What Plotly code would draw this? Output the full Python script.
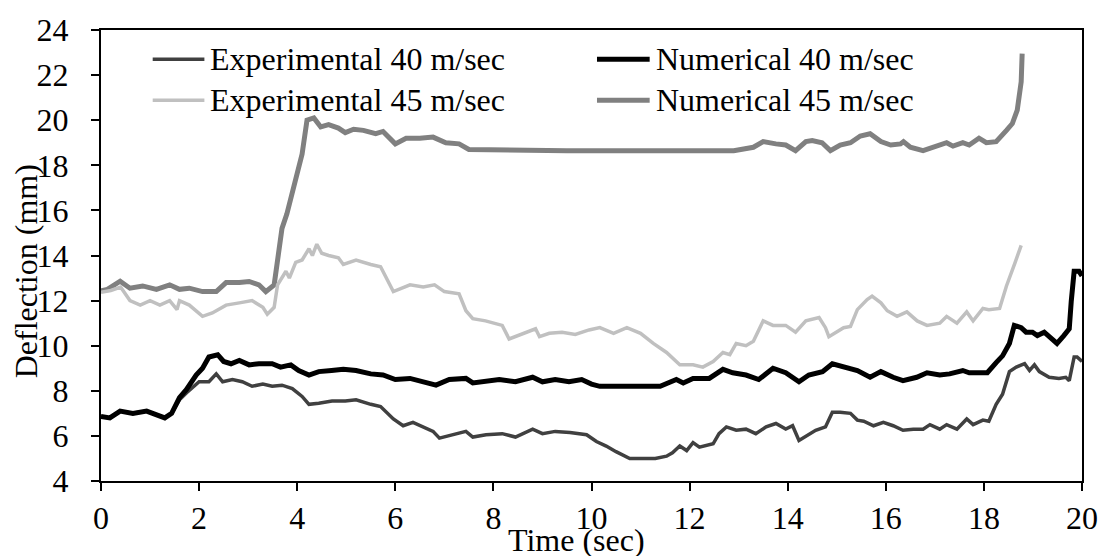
import plotly.graph_objects as go

# ---------------- data ----------------
t_num45 = [0, 0.13, 0.39, 0.59, 0.85, 1.13, 1.4, 1.6, 1.8, 2.07, 2.35, 2.55, 2.82, 3.02, 3.22, 3.36, 3.53,
           3.59, 3.69, 3.79, 3.9, 4.03, 4.1, 4.2, 4.34, 4.48, 4.64, 4.84, 4.98, 5.15, 5.35, 5.6, 5.75,
           6.0, 6.22, 6.5, 6.77, 7.03, 7.3, 7.5, 8.5, 9.5, 10.5, 11.5, 12.9, 13.3, 13.5, 13.76, 13.96,
           14.16, 14.37, 14.5, 14.7, 14.87, 15.07, 15.28, 15.48, 15.68, 15.9, 16.1, 16.3, 16.36, 16.5,
           16.76, 16.96, 17.24, 17.37, 17.57, 17.7, 17.9, 18.05, 18.25, 18.46, 18.58, 18.68, 18.76, 18.78]
v_num45 = [12.43, 12.5, 12.86, 12.55, 12.65, 12.5, 12.7, 12.5, 12.55, 12.4, 12.4, 12.8, 12.8, 12.85, 12.7, 12.4, 12.7,
           13.6, 15.2, 15.85, 16.85, 17.9, 18.5, 20.0, 20.1, 19.7, 19.8, 19.65, 19.45, 19.6, 19.55, 19.4, 19.5,
           18.95, 19.2, 19.2, 19.25, 19.0, 18.95, 18.7, 18.65, 18.65, 18.65, 18.65, 18.65, 18.8, 19.05, 18.95, 18.9,
           18.65, 19.05, 19.1, 19.0, 18.65, 18.9, 19.0, 19.3, 19.4, 19.05, 18.9, 18.95, 19.05, 18.8,
           18.65, 18.8, 19.0, 18.85, 19.0, 18.9, 19.2, 19.0, 19.05, 19.55, 19.85, 20.45, 21.7, 22.95]

t_exp45 = [0, 0.2, 0.4, 0.59, 0.8, 1.0, 1.2, 1.4, 1.55, 1.6, 1.8, 2.07, 2.27, 2.55, 2.82, 3.08, 3.3, 3.39, 3.53,
           3.6, 3.77, 3.84, 3.97, 4.1, 4.24, 4.31, 4.4, 4.5, 4.64, 4.84, 4.94, 5.2, 5.5, 5.7, 5.96, 6.3,
           6.57, 6.8, 7.0, 7.3, 7.44, 7.58, 7.84, 8.04, 8.18, 8.32, 8.6, 8.86, 8.94, 9.14, 9.4, 9.67,
           9.95, 10.17, 10.45, 10.72, 11.0, 11.26, 11.53, 11.8, 12.07, 12.27, 12.48, 12.68, 12.82, 12.95,
           13.15, 13.3, 13.5, 13.7, 13.96, 14.16, 14.37, 14.64, 14.77, 14.84, 15.14, 15.28, 15.42,
           15.62, 15.72, 15.9, 16.03, 16.23, 16.43, 16.64, 16.84, 17.1, 17.24, 17.45, 17.65, 17.78,
           17.98, 18.1, 18.32, 18.46, 18.63, 18.76]
v_exp45 = [12.37, 12.45, 12.6, 12.0, 11.8, 12.0, 11.8, 12.0, 11.6, 12.0, 11.8, 11.3, 11.45, 11.8, 11.9, 12.0, 11.7, 11.4, 11.7,
           12.7, 13.3, 13.0, 13.7, 13.8, 14.3, 14.0, 14.5, 14.1, 14.0, 13.9, 13.6, 13.8, 13.6, 13.5, 12.4, 12.7,
           12.6, 12.7, 12.4, 12.3, 11.55, 11.2, 11.1, 11.0, 10.9, 10.3, 10.55, 10.75, 10.4, 10.55, 10.6, 10.5,
           10.7, 10.8, 10.55, 10.8, 10.55, 10.1, 9.7, 9.15, 9.15, 9.05, 9.3, 9.7, 9.6, 10.1,
           10.0, 10.2, 11.1, 10.9, 10.9, 10.6, 11.1, 11.25, 10.8, 10.4, 10.8, 10.85, 11.6,
           12.05, 12.2, 11.9, 11.55, 11.3, 11.5, 11.1, 10.9, 11.0, 11.3, 11.0, 11.5, 11.1,
           11.65, 11.6, 11.65, 12.65, 13.65, 14.45]

t_num40 = [0, 0.18, 0.39, 0.65, 0.93, 1.13, 1.3, 1.44, 1.6, 1.74, 1.94, 2.07, 2.2, 2.38, 2.5, 2.65, 2.82,
           3.02, 3.22, 3.49, 3.66, 3.87, 4.03, 4.24, 4.44, 4.7, 4.94, 5.2, 5.5, 5.75, 6.0, 6.3, 6.57,
           6.83, 7.1, 7.44, 7.58, 7.85, 8.12, 8.45, 8.8, 9.0, 9.26, 9.54, 9.8, 10.0, 10.17, 11.4,
           11.73, 11.87, 12.07, 12.4, 12.68, 12.88, 13.15, 13.41, 13.7, 13.96, 14.23, 14.43, 14.71,
           14.91, 15.14, 15.42, 15.68, 15.9, 16.15, 16.35, 16.63, 16.84, 17.1, 17.3, 17.57, 17.7,
           17.98, 18.07, 18.25, 18.38, 18.52, 18.62, 18.76, 18.86, 18.99, 19.09, 19.23, 19.39,
           19.49, 19.63, 19.74, 19.78, 19.84, 19.94, 20.0]
v_num40 = [6.86, 6.8, 7.1, 7.0, 7.1, 6.95, 6.8, 7.0, 7.7, 8.05, 8.7, 9.0, 9.5, 9.6, 9.3, 9.2, 9.35,
           9.15, 9.2, 9.2, 9.05, 9.15, 8.9, 8.7, 8.85, 8.9, 8.95, 8.9, 8.75, 8.7, 8.5, 8.55, 8.4,
           8.25, 8.5, 8.55, 8.35, 8.4, 8.5, 8.4, 8.6, 8.4, 8.5, 8.4, 8.5, 8.3, 8.2, 8.2,
           8.5, 8.35, 8.55, 8.55, 8.95, 8.8, 8.7, 8.5, 9.0, 8.8, 8.4, 8.7, 8.85,
           9.2, 9.05, 8.9, 8.6, 8.85, 8.6, 8.45, 8.6, 8.8, 8.7, 8.75, 8.9, 8.8,
           8.8, 8.8, 9.25, 9.55, 10.1, 10.9, 10.8, 10.6, 10.6, 10.45, 10.6, 10.3,
           10.1, 10.45, 10.75, 11.95, 13.3, 13.3, 13.1]

t_exp40 = [0, 0.18, 0.39, 0.65, 0.93, 1.13, 1.3, 1.44, 1.6, 1.74, 1.94, 2.0, 2.2, 2.35, 2.48, 2.68, 2.88,
           3.08, 3.3, 3.49, 3.69, 3.9, 4.1, 4.24, 4.44, 4.71, 4.98, 5.2, 5.5, 5.7, 5.96, 6.16, 6.36,
           6.57, 6.77, 6.9, 7.17, 7.44, 7.58, 7.85, 8.18, 8.45, 8.8, 9.0, 9.26, 9.56, 9.9, 10.1, 10.3,
           10.5, 10.78, 11.06, 11.3, 11.53, 11.65, 11.8, 11.94, 12.07, 12.2, 12.48, 12.6, 12.75,
           12.95, 13.15, 13.35, 13.56, 13.76, 13.96, 14.1, 14.23, 14.37, 14.57, 14.77, 14.91, 15.07,
           15.28, 15.42, 15.55, 15.75, 15.95, 16.15, 16.35, 16.56, 16.76, 16.9, 17.1, 17.24, 17.45,
           17.65, 17.78, 17.98, 18.1, 18.25, 18.38, 18.52, 18.66, 18.83, 18.93, 19.03, 19.13, 19.33,
           19.53, 19.67, 19.74, 19.84, 19.9, 20.0]
v_exp40 = [6.86, 6.8, 7.1, 7.0, 7.1, 6.95, 6.8, 7.0, 7.6, 7.9, 8.3, 8.4, 8.4, 8.75, 8.4, 8.5, 8.4,
           8.2, 8.3, 8.2, 8.25, 8.1, 7.75, 7.4, 7.45, 7.55, 7.55, 7.6, 7.4, 7.3, 6.75, 6.45, 6.6,
           6.4, 6.2, 5.9, 6.05, 6.2, 5.95, 6.05, 6.1, 5.95, 6.3, 6.1, 6.2, 6.15, 6.05, 5.75, 5.55,
           5.3, 5.0, 5.0, 5.0, 5.1, 5.25, 5.55, 5.35, 5.7, 5.5, 5.65, 6.1, 6.4,
           6.25, 6.3, 6.1, 6.4, 6.55, 6.3, 6.45, 5.8, 6.0, 6.25, 6.4, 7.05, 7.05,
           7.0, 6.7, 6.65, 6.45, 6.6, 6.45, 6.25, 6.3, 6.3, 6.5, 6.3, 6.5, 6.3,
           6.75, 6.5, 6.7, 6.65, 7.4, 7.85, 8.85, 9.05, 9.2, 8.9, 9.15, 8.85, 8.6,
           8.55, 8.6, 8.45, 9.5, 9.5, 9.3]

series_names = ["Experimental 40 m/sec", "Numerical 40 m/sec",
                "Experimental 45 m/sec", "Numerical 45 m/sec"]

x_ticks = [0, 2, 4, 6, 8, 10, 12, 14, 16, 18, 20]
y_ticks = [4, 6, 8, 10, 12, 14, 16, 18, 20, 22, 24]

# ---------------- styles ----------------
FONT = "Times New Roman, Liberation Serif, DejaVu Serif, serif"
FS = 32
styles = {
    "Experimental 40 m/sec": dict(color="#404040", width=3.5),
    "Numerical 40 m/sec": dict(color="#000000", width=5),
    "Experimental 45 m/sec": dict(color="#c0c0c0", width=3.5),
    "Numerical 45 m/sec": dict(color="#808080", width=5),
}
series = {
    "Experimental 40 m/sec": (t_exp40, v_exp40),
    "Numerical 40 m/sec": (t_num40, v_num40),
    "Experimental 45 m/sec": (t_exp45, v_exp45),
    "Numerical 45 m/sec": (t_num45, v_num45),
}

fig = go.Figure()
draw_order = ["Numerical 45 m/sec", "Experimental 45 m/sec", "Experimental 40 m/sec", "Numerical 40 m/sec"]
for name in draw_order:
    tx, vy = series[name]
    fig.add_trace(go.Scatter(x=tx, y=vy, mode="lines", name=name,
                             line=dict(color=styles[name]["color"], width=styles[name]["width"]),
                             showlegend=False))

# manual legend (two columns)
legend_pos = {
    "Experimental 40 m/sec": (0.0527, 0.1054, 0.935),
    "Experimental 45 m/sec": (0.0527, 0.1054, 0.844),
    "Numerical 40 m/sec": (0.5056, 0.5593, 0.935),
    "Numerical 45 m/sec": (0.5056, 0.5593, 0.844),
}
shapes = []
annotations = []
for name, (x0, x1, yy) in legend_pos.items():
    shapes.append(dict(type="line", xref="paper", yref="paper", x0=x0, x1=x1, y0=yy, y1=yy,
                       line=dict(color=styles[name]["color"], width=styles[name]["width"])))
    annotations.append(dict(text=name, xref="paper", yref="paper", x=x1 + 0.004, y=yy,
                            xanchor="left", yanchor="middle", showarrow=False,
                            font=dict(family=FONT, size=FS, color="black")))

annotations.append(dict(text="Time (sec)", xref="paper", yref="paper", x=0.485, y=-0.131,
                        xanchor="center", yanchor="middle", showarrow=False,
                        font=dict(family=FONT, size=FS, color="black")))
annotations.append(dict(text="Deflection (mm)", xref="paper", yref="paper", x=-0.077, y=0.466,
                        xanchor="center", yanchor="middle", textangle=-90, showarrow=False,
                        font=dict(family=FONT, size=FS, color="black")))

fig.update_layout(
    width=1110, height=556,
    margin=dict(l=101, r=22, t=20, b=75),
    paper_bgcolor="white", plot_bgcolor="white",
    font=dict(family=FONT, size=FS, color="black"),
    shapes=shapes, annotations=annotations,
    showlegend=False,
)
fig.update_xaxes(range=[0, 20], tickvals=x_ticks, ticktext=[str(v) for v in x_ticks],
                 showgrid=False, zeroline=False, showline=True, linecolor="black", linewidth=2,
                 mirror=True, ticks="outside", ticklen=8, tickwidth=2, tickcolor="black",
                 tickfont=dict(family=FONT, size=FS, color="black"))
fig.update_yaxes(range=[4, 24], tickvals=y_ticks, ticktext=[str(v) for v in y_ticks],
                 showgrid=False, zeroline=False, showline=True, linecolor="black", linewidth=2,
                 mirror=True, ticks="outside", ticklen=8, tickwidth=2, tickcolor="black",
                 tickfont=dict(family=FONT, size=FS, color="black"), ticklabelstandoff=16)

fig.write_html("out.html")
